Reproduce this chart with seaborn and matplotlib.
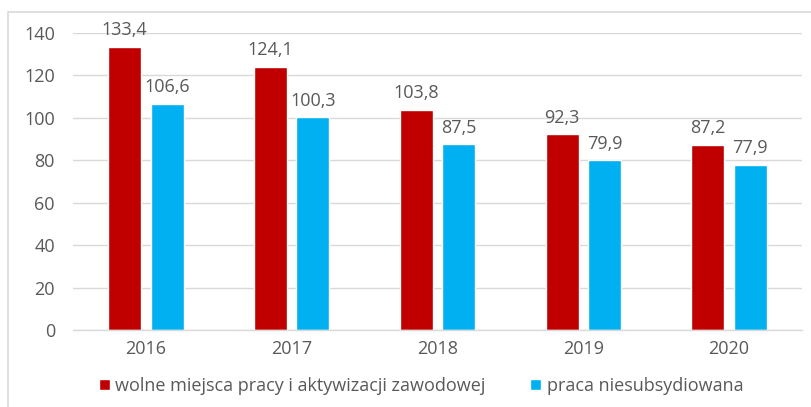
import matplotlib
matplotlib.use("Agg")
import matplotlib.pyplot as plt
import seaborn as sns
import pandas as pd
from matplotlib.patches import Rectangle

years = ["2016", "2017", "2018", "2019", "2020"]
series_names = ["wolne miejsca pracy i aktywizacji zawodowej", "praca niesubsydiowana"]
wolne = [133.4, 124.1, 103.8, 92.3, 87.2]
praca = [106.6, 100.3, 87.5, 79.9, 77.9]
colors = ["#C00000", "#00B0F0"]
yticks = [0, 20, 40, 60, 80, 100, 120, 140]

df = pd.DataFrame({
    "year": years * 2,
    "value": wolne + praca,
    "series": [series_names[0]] * len(years) + [series_names[1]] * len(years),
})

sns.set_theme(style="white")
plt.rcParams["font.family"] = ["Open Sans", "DejaVu Sans"]
txt = "#595959"
fs = 13

fig = plt.figure(figsize=(8.11, 4.07), dpi=100)
ax = fig.add_axes([73 / 811, 1 - 330 / 407, 729 / 811, 297 / 407])

sns.barplot(data=df, x="year", y="value", hue="series", order=years,
            hue_order=series_names, palette=colors, width=0.58, gap=0.22,
            saturation=1, ax=ax, legend=True)

ax.set_ylim(0, 140)
ax.set_xlim(-0.5, 4.5)
ax.set_yticks(yticks)
ax.set_yticklabels([str(t) for t in yticks])
ax.yaxis.grid(True, color="#D9D9D9", linewidth=1)
ax.set_axisbelow(True)
for s in ["top", "right", "left"]:
    ax.spines[s].set_visible(False)
ax.spines["bottom"].set_color("#D9D9D9")
ax.spines["bottom"].set_linewidth(1)
ax.tick_params(axis="both", colors=txt, labelsize=fs, length=0)
ax.tick_params(axis="x", pad=7)
ax.tick_params(axis="y", pad=13)
ax.set_xlabel("")
ax.set_ylabel("")

for cont in ax.containers:
    labels = [f"{v:.1f}".replace(".", ",") for v in cont.datavalues]
    ax.bar_label(cont, labels=labels, padding=5.5, color=txt, fontsize=fs)

h, l = ax.get_legend_handles_labels()
ax.get_legend().remove()
fig.legend(h, l, loc="center", bbox_to_anchor=(421 / 811, 1 - 386 / 407), ncol=2,
           frameon=False, fontsize=fs, labelcolor=txt, handlelength=0.6,
           handleheight=0.6, handletextpad=0.3, columnspacing=2.5)

fig.patches.append(Rectangle((8 / 811, -0.1), 1.2, 1 - 12 / 407 + 0.1,
                             transform=fig.transFigure, fill=False,
                             edgecolor="#D9D9D9", linewidth=1.2))

fig.savefig("out.png", dpi=100)
